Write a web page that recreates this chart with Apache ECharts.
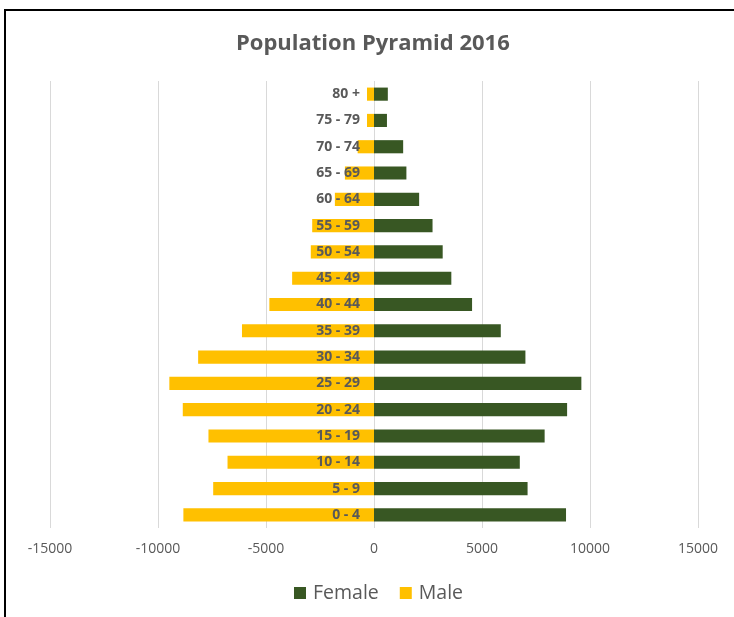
<!DOCTYPE html>
<html>
<head>
<meta charset="utf-8">
<script src="https://cdn.jsdelivr.net/npm/echarts@6/dist/echarts.min.js"></script>
<style>
html,body{margin:0;padding:0;background:#fff;overflow:hidden;}
#frame{position:absolute;left:4px;top:9px;width:760px;height:640px;border-left:2px solid #000;border-top:2px solid #000;}
#chart{position:absolute;left:0;top:0;width:734px;height:617px;}
</style>
</head>
<body>
<div id="frame"></div>
<div id="chart"></div>
<script>
const categories = ['0 - 4','5 - 9','10 - 14','15 - 19','20 - 24','25 - 29','30 - 34','35 - 39','40 - 44','45 - 49','50 - 54','55 - 59','60 - 64','65 - 69','70 - 74','75 - 79','80 +'];
const female = [8890, 7110, 6750, 7900, 8940, 9600, 7010, 5870, 4540, 3580, 3180, 2710, 2090, 1500, 1350, 600, 640];
const male = [-8825, -7445, -6781, -7664, -8853, -9475, -8142, -6112, -4844, -3790, -2926, -2861, -1811, -1347, -757, -325, -325];
const xTicks = {min: -15000, max: 15000, interval: 5000};

const chart = echarts.init(document.getElementById('chart'));
const textColor = '#595959';
const gridLeft = 50, gridRight = 36;
const gridWidth = 734 - gridLeft - gridRight;
chart.setOption({
  animation: false,
  title: {
    text: 'Population Pyramid 2016',
    left: 231,
    top: 28,
    textStyle: {fontFamily: 'Open Sans', fontWeight: 'bold', fontSize: 22, color: textColor}
  },
  legend: {
    data: ['Female', 'Male'],
    left: 289,
    top: 578,
    icon: 'rect',
    itemWidth: 12,
    itemHeight: 12,
    itemGap: 21,
    textStyle: {fontFamily: 'Open Sans', fontSize: 19.5, color: textColor, padding: [0, 0, 0, 2]}
  },
  grid: {left: gridLeft, right: gridRight, top: 81, bottom: 89, containLabel: false, outerBoundsMode: 'none'},
  xAxis: {
    type: 'value',
    min: xTicks.min,
    max: xTicks.max,
    interval: xTicks.interval,
    axisLine: {show: false},
    axisTick: {show: false},
    splitLine: {lineStyle: {color: '#d9d9d9', width: 1}},
    axisLabel: {fontFamily: 'Open Sans', fontSize: 14, color: textColor, margin: 14, formatter: v => String(v)}
  },
  yAxis: {
    type: 'category',
    data: categories,
    position: 'left',
    offset: -gridWidth * (0 - xTicks.min) / (xTicks.max - xTicks.min),
    z: 10,
    axisLine: {show: false, onZero: false},
    axisTick: {show: false},
    splitLine: {show: false},
    axisLabel: {fontFamily: 'Open Sans', fontWeight: 'bold', fontSize: 14, color: textColor, margin: 14}
  },
  series: [
    {
      name: 'Female', type: 'bar', data: female,
      barWidth: '50%', barGap: '-100%',
      itemStyle: {color: '#385723'}
    },
    {
      name: 'Male', type: 'bar', data: male,
      barWidth: '50%', barGap: '-100%',
      itemStyle: {color: '#FFC000'}
    }
  ]
});
</script>
</body>
</html>
